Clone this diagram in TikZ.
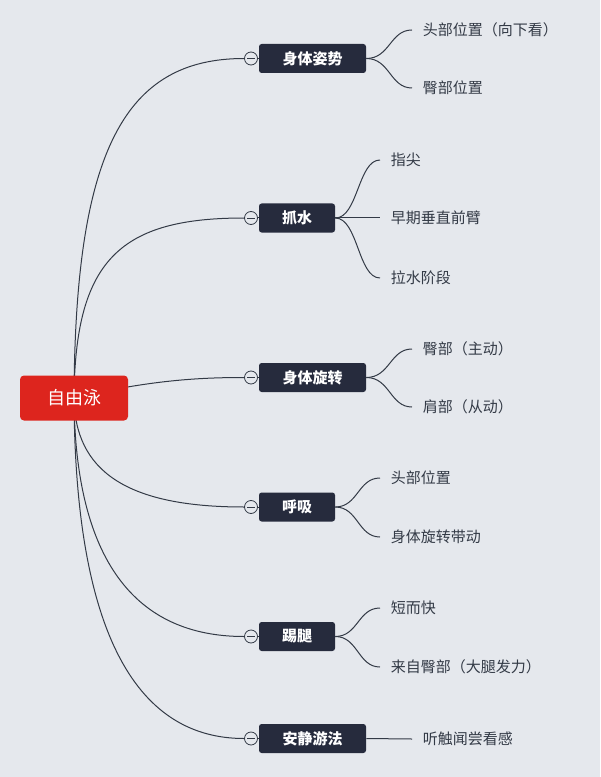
\documentclass[tikz,border=0pt]{standalone}
\usepackage{fontspec}
\setmainfont{Noto Sans CJK SC}
\usepackage{tikz}
\usetikzlibrary{
    arrows.meta,
    positioning,
    calc,
    backgrounds
}
\definecolor{PaperGray}{RGB}{229,232,237}
\definecolor{RootRed}{RGB}{221,37,30}
\definecolor{TopicNavy}{RGB}{38,43,61}
\definecolor{InkGray}{RGB}{51,58,70}
\tikzset{
  rootbox/.style  = {fill=RootRed, rounded corners=3pt, minimum width=81pt,
                     minimum height=33.75pt, text=white, font=\fontsize{13.5}{15}\selectfont},
  topic/.style    = {fill=TopicNavy, rounded corners=2pt, minimum height=21.75pt,
                     text=white, font=\fontsize{11.25}{13}\selectfont\bfseries},
  leaf/.style     = {anchor=west, inner xsep=8pt, inner ysep=2pt, text=InkGray,
                     font=\fontsize{11.25}{13}\selectfont},
  toggle/.style   = {draw=InkGray, fill=PaperGray, circle, inner sep=0pt,
                     minimum size=9.75pt, line width=0.6pt},
  link/.style     = {InkGray, line width=0.75pt}
}

\begin{document}
\begin{tikzpicture}[x=0.75pt,y=-0.75pt]
\useasboundingbox (0,0) rectangle (600,777);
\node[rootbox] (root) at (74,398) {自由泳};
% main topics
\node[topic,minimum width=80.25pt] (pose)   at (312.5,58.5)  {身体姿势};
\node[topic,minimum width=57pt]    (catch)  at (297,218)   {抓水};
\node[topic,minimum width=80.25pt] (rot)    at (312.5,377.5) {身体旋转};
\node[topic,minimum width=57pt]    (breath) at (297,507)   {呼吸};
\node[topic,minimum width=57pt]    (kick)   at (297,636.5) {踢腿};
\node[topic,minimum width=80.25pt] (calm)   at (312.5,738.5) {安静游法};
% collapse toggles
\foreach \n/\y in {pose/58.5,catch/218,rot/377.5,breath/507,kick/636.5,calm/738.5}{
  \node[toggle] (t\n) at (251,\y) {};
  \draw[InkGray,line width=0.6pt] ($(t\n.west)+(3,0)$) -- ($(t\n.east)+(-3,0)$);
  \draw[link] (t\n.east) -- (\n.west);
}
% leaves
\node[leaf] (pose1)   at (412,30)  {头部位置（向下看）};
\node[leaf] (pose2)   at (412,88)  {臀部位置};
\node[leaf] (catch1)  at (380,160) {指尖};
\node[leaf] (catch2)  at (380,218) {早期垂直前臂};
\node[leaf] (catch3)  at (380,278) {拉水阶段};
\node[leaf] (rot1)    at (412,349) {臀部（主动）};
\node[leaf] (rot2)    at (412,407) {肩部（从动）};
\node[leaf] (breath1) at (380,478) {头部位置};
\node[leaf] (breath2) at (380,537) {身体旋转带动};
\node[leaf] (kick1)   at (380,608) {短而快};
\node[leaf] (kick2)   at (380,667) {来自臀部（大腿发力）};
\node[leaf] (calm1)   at (412,739) {听触闻尝看感};

\begin{scope}[on background layer]
\fill[PaperGray] (0,0) rectangle (600,777);
% root to topics
\draw[link] (root.center) .. controls (75,150) and (125,58.5) .. (tpose.west);
\draw[link] (root.center) .. controls (75,260) and (120,218) .. (tcatch.west);
\draw[link] (root.center) .. controls (150,380) and (200,377.5) .. (trot.west);
\draw[link] (root.center) .. controls (75,470) and (125,507) .. (tbreath.west);
\draw[link] (root.center) .. controls (75,560) and (135,636.5) .. (tkick.west);
\draw[link] (root.center) .. controls (75,640) and (140,738.5) .. (tcalm.west);
% topics to leaves
\draw[link] (pose.east) .. controls (390,58.5) and (390,30) .. (pose1.west);
\draw[link] (pose.east) .. controls (390,58.5) and (390,88) .. (pose2.west);
\draw[link] (catch.east) .. controls (358,218) and (358,160) .. (catch1.west);
\draw[link] (catch.east) -- (catch2.west);
\draw[link] (catch.east) .. controls (358,218) and (358,278) .. (catch3.west);
\draw[link] (rot.east) .. controls (390,377.5) and (390,349) .. (rot1.west);
\draw[link] (rot.east) .. controls (390,377.5) and (390,407) .. (rot2.west);
\draw[link] (breath.east) .. controls (358,507) and (358,478) .. (breath1.west);
\draw[link] (breath.east) .. controls (358,507) and (358,537) .. (breath2.west);
\draw[link] (kick.east) .. controls (358,636.5) and (358,608) .. (kick1.west);
\draw[link] (kick.east) .. controls (358,636.5) and (358,667) .. (kick2.west);
\draw[link] (calm.east) -- (calm1.west);
\end{scope}
\end{tikzpicture}
\end{document}
